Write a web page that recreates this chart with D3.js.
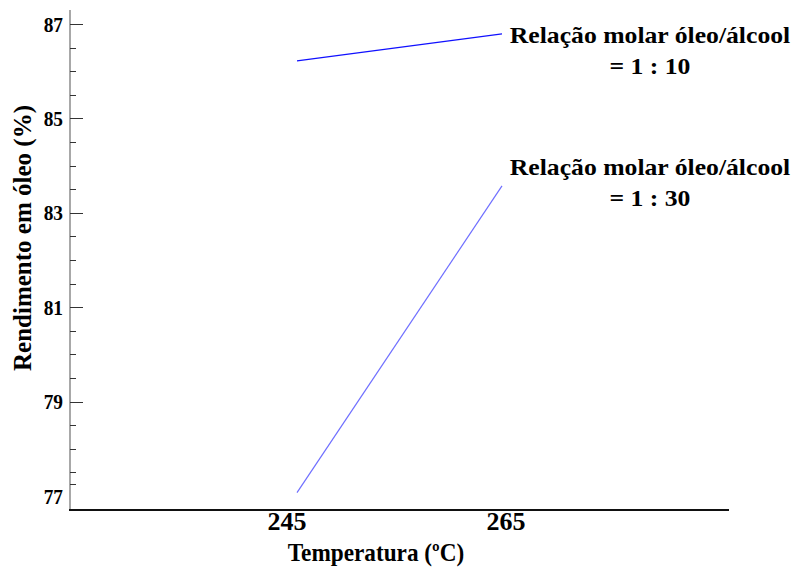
<!DOCTYPE html>
<html>
<head>
<meta charset="utf-8">
<script src="https://cdn.jsdelivr.net/npm/d3@7"></script>
<style>
html,body{margin:0;padding:0;background:#fff;}
svg{display:block;}
text{font-family:"Liberation Serif","Times New Roman",Times,serif;font-weight:bold;fill:#000;}
</style>
</head>
<body>
<svg id="chart" width="803" height="568"></svg>
<script>
const temperatures = [245, 265];
const seriesNames = ["Relação molar óleo/álcool\n= 1 : 10", "Relação molar óleo/álcool\n= 1 : 30"];
const yield10 = [86.22, 86.79];
const yield30 = [77.07, 83.57];
const seriesColors = ["#1010ff", "#6f6fff"];
const yMajorTicks = [77, 79, 81, 83, 85, 87];
const yMinorTicks = [77.25, 77.5, 78, 78.5, 79.5, 80, 80.5, 81.5, 82, 82.5, 83.5, 84, 84.5, 85.5, 86, 86.5];
const xTicks = [245, 265];
const xTitle = "Temperatura (ºC)";
const yTitle = "Rendimento em óleo (%)";

const svg = d3.select("#chart");
const x = d3.scaleLinear().domain([245, 265]).range([297, 502]);
const xLabel = d3.scaleLinear().domain([245, 265]).range([287, 506]);
const y = d3.scaleLinear().domain([77, 87]).range([496, 24]);

const xLeft = 70, xRight = 729, yBottom = 510, yTop = 10;

// y axis line (gray)
svg.append("line").attr("x1", xLeft).attr("x2", xLeft).attr("y1", yTop).attr("y2", yBottom)
  .attr("stroke", "#a8a8a8").attr("stroke-width", 2);
// x axis line
svg.append("line").attr("x1", xLeft - 1).attr("x2", xRight).attr("y1", yBottom).attr("y2", yBottom)
  .attr("stroke", "#111").attr("stroke-width", 2);

// ticks
svg.selectAll(".ymaj").data(yMajorTicks.filter(d => d !== 77)).enter().append("line")
  .attr("x1", xLeft).attr("x2", xLeft + 13)
  .attr("y1", d => Math.round(y(d)) + 0.5).attr("y2", d => Math.round(y(d)) + 0.5)
  .attr("stroke", "#333").attr("stroke-width", 1);
svg.selectAll(".ymin").data(yMinorTicks).enter().append("line")
  .attr("x1", xLeft).attr("x2", xLeft + 6)
  .attr("y1", d => Math.round(y(d)) + 0.5).attr("y2", d => Math.round(y(d)) + 0.5)
  .attr("stroke", "#333").attr("stroke-width", 1);

// y tick labels
svg.selectAll(".ylab").data(yMajorTicks).enter().append("text")
  .attr("transform", d => `translate(63,${y(d) + 7.5}) scale(0.88,1)`)
  .attr("text-anchor", "end").attr("font-size", 22)
  .text(d => d);

// x tick labels
svg.selectAll(".xlab").data(xTicks).enter().append("text")
  .attr("x", d => xLabel(d)).attr("y", 530)
  .attr("text-anchor", "middle").attr("font-size", 26)
  .text(d => d);

// axis titles
svg.append("text").attr("transform", "translate(376,561) scale(0.93,1)").attr("text-anchor", "middle")
  .attr("font-size", 25).text(xTitle);
svg.append("text").attr("transform", "translate(31,238) rotate(-90)").attr("text-anchor", "middle")
  .attr("font-size", 25).text(yTitle);

// lines
const line = d3.line().x((d, i) => x(temperatures[i])).y(d => y(d));
[yield10, yield30].forEach((vals, k) => {
  svg.append("path").datum(vals).attr("d", line)
    .attr("fill", "none").attr("stroke", seriesColors[k]).attr("stroke-width", 1.2);
});

// series labels
const labelOffsets = [9, -11];
[yield10, yield30].forEach((vals, k) => {
  const parts = seriesNames[k].split("\n");
  const t = svg.append("text").attr("text-anchor", "middle").attr("font-size", 24)
    .attr("transform", `translate(650,${y(vals[1]) + labelOffsets[k]}) scale(1.07,1)`);
  t.append("tspan").attr("x", 0).attr("dy", 0).text(parts[0]);
  t.append("tspan").attr("x", 0).attr("dy", 31).text(parts[1]);
});
</script>
</body>
</html>
